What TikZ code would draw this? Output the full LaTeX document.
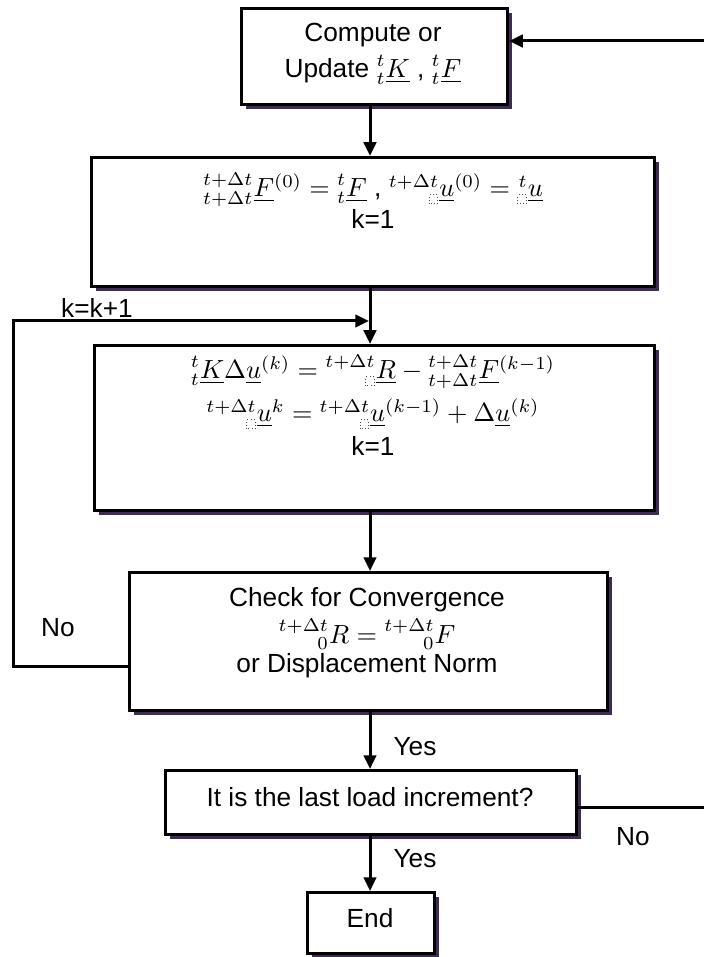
\documentclass[tikz,border=0pt]{standalone}
\usepackage{fix-cm}
\usepackage{mathtools}
\usepackage{fontspec}
\setmainfont{Liberation Sans}
\usetikzlibrary{arrows.meta,shadows}
\definecolor{shadowc}{RGB}{62,45,82}
\newcommand{\phbox}{\tikz[baseline=0pt]\draw[black!70,densely dotted,line width=0.3pt] (0pt,0pt) rectangle (3.4pt,3.6pt);}
\begin{document}
\begin{tikzpicture}[x=0.4pt,y=-0.4pt,
  font=\fontsize{10.5}{12.5}\selectfont,
  box/.style={draw, line width=1.2pt, fill=white, inner sep=0pt,
    drop shadow={shadow xshift=1.7pt, shadow yshift=-1.9pt, fill=shadowc, opacity=1}},
  ln/.style={line width=1.2pt},
  arr/.style={ln, -{Triangle[length=5.5pt,width=5pt]}},
  txt/.style={inner sep=0pt, anchor=base}]
\useasboundingbox (0,0) rectangle (704,957);

% boxes
\node[box, anchor=north west, minimum width=106.4pt, minimum height=38.4pt] (b1) at (240,7) {};
\node[box, anchor=north west, minimum width=225.2pt, minimum height=51.6pt] (b2) at (90,156) {};
\node[box, anchor=north west, minimum width=224pt, minimum height=66pt] (b3) at (93,344) {};
\node[box, anchor=north west, minimum width=191.2pt, minimum height=55.2pt] (b4) at (128,571) {};
\node[box, anchor=north west, minimum width=164.4pt, minimum height=25.6pt] (b5) at (164,769) {};
\node[box, anchor=north west, minimum width=50.8pt, minimum height=24.4pt] (b6) at (306,891) {};

% texts
\node[txt] (t1a) at (373,42) {Compute or};
\node[txt] (t1b) at (373,78) {Update $\prescript{t}{t}{\underline{K}}$ , $\prescript{t}{t}{\underline{F}}$};
\node[txt] (t2a) at (373,197) {$\prescript{t+\Delta t}{t+\Delta t}{\underline{F}}^{(0)} = \prescript{t}{t}{\underline{F}}$ , $\prescript{t+\Delta t}{\phbox}{\underline{u}}^{(0)} = \prescript{t}{\phbox}{\underline{u}}$};
\node[txt] (t2b) at (373,229) {k=1};
\node[txt] (t3a) at (373,379) {$\prescript{t}{t}{\underline{K}}\Delta\underline{u}^{(k)} = \prescript{t+\Delta t}{\phbox}{\underline{R}} - \prescript{t+\Delta t}{t+\Delta t}{\underline{F}}^{(k-1)}$};
\node[txt] (t3b) at (373,422) {$\prescript{t+\Delta t}{\phbox}{\underline{u}}^{k} = \prescript{t+\Delta t}{\phbox}{\underline{u}}^{(k-1)} + \Delta\underline{u}^{(k)}$};
\node[txt] (t3c) at (373,455) {k=1};
\node[txt] (t4a) at (367,606) {Check for Convergence};
\node[txt] (t4b) at (367,643) {$\prescript{t+\Delta t}{0}{R} = \prescript{t+\Delta t}{0}{F}$};
\node[txt] (t4c) at (367,672) {or Displacement Norm};
\node[txt] (t5) at (370,806) {It is the last load increment?};
\node[txt] (t6) at (370,927) {End};

% labels
\node[txt] (lk) at (97,318) {k=k+1};
\node[txt] (lno1) at (58,636) {No};
\node[txt] (lyes1) at (415,755) {Yes};
\node[txt] (lyes2) at (415,867) {Yes};
\node[txt] (lno2) at (633,845) {No};

% connectors
\coordinate (cx) at (370,0);
\coordinate (rt) at (704,41);
\coordinate (rb) at (704,807);
\coordinate (lb) at (13,666);
\coordinate (lt) at (13,321);
\coordinate (jn) at (369,321);

\draw[arr] (rt) -- (rt -| b1.east);
\draw[arr] (b1.south -| cx) -- (b2.north -| cx);
\draw[arr] (b2.south -| cx) -- (b3.north -| cx);
\draw[arr] (b3.south -| cx) -- (b4.north -| cx);
\draw[arr] (b4.south -| cx) -- (b5.north -| cx);
\draw[arr] (b5.south -| cx) -- (b6.north -| cx);
\draw[arr] (b4.west |- lb) -- (lb) -- (lt) -- (jn);
\draw[ln] (b5.east |- rb) -- (rb);
\end{tikzpicture}
\end{document}
